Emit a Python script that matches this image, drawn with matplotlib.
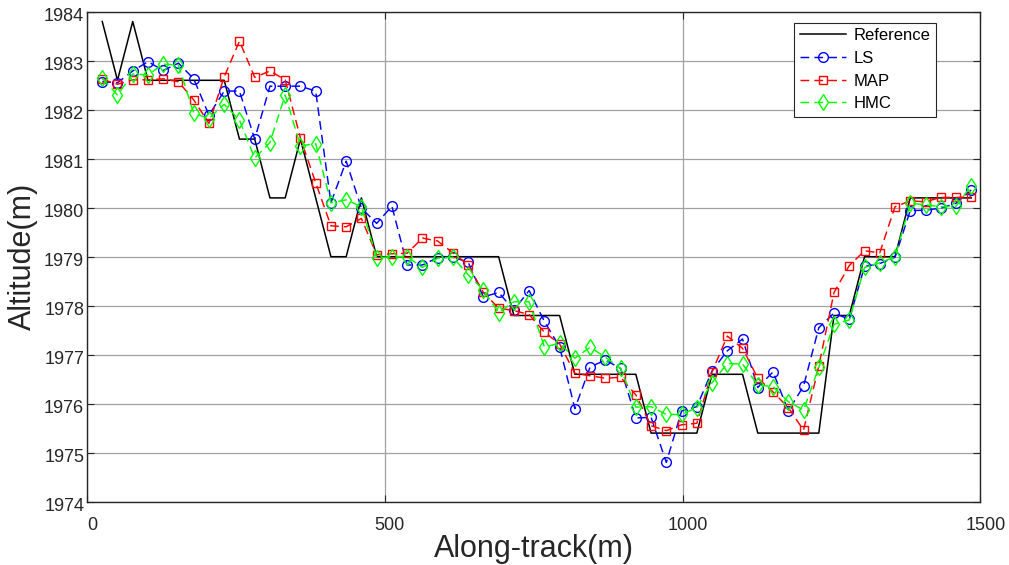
import matplotlib
matplotlib.use('Agg')
import matplotlib.pyplot as plt
import matplotlib.transforms as mtransforms
import numpy as np

plt.rcParams['font.family'] = ['Liberation Sans', 'DejaVu Sans']

# along-track sample positions (m)
along_track = [25.6, 51.2, 76.8, 102.4, 128.0, 153.6, 179.2, 204.8, 230.4, 256.0,
               281.6, 307.2, 332.8, 358.4, 384.0, 409.6, 435.2, 460.8, 486.4, 512.0,
               537.6, 563.2, 588.8, 614.4, 640.0, 665.6, 691.2, 716.8, 742.4, 768.0,
               793.6, 819.2, 844.8, 870.4, 896.0, 921.6, 947.2, 972.8, 998.4, 1024.0,
               1049.6, 1075.2, 1100.8, 1126.4, 1152.0, 1177.6, 1203.2, 1228.8, 1254.4, 1280.0,
               1305.6, 1331.2, 1356.8, 1382.4, 1408.0, 1433.6, 1459.2, 1484.8]

reference = [1983.8, 1982.6, 1983.8, 1982.6, 1982.6, 1982.6, 1982.6, 1982.6, 1982.6, 1981.4,
             1981.4, 1980.2, 1980.2, 1981.4, 1980.2, 1979.0, 1979.0, 1980.2, 1979.0, 1979.0,
             1979.0, 1979.0, 1979.0, 1979.0, 1979.0, 1979.0, 1979.0, 1977.8, 1977.8, 1977.8,
             1977.8, 1976.6, 1976.6, 1976.6, 1976.6, 1976.6, 1975.4, 1975.4, 1975.4, 1975.4,
             1976.6, 1976.6, 1976.6, 1975.4, 1975.4, 1975.4, 1975.4, 1975.4, 1977.8, 1977.8,
             1979.0, 1979.0, 1979.0, 1980.2, 1980.2, 1980.2, 1980.2, 1980.2]

ls_est = [1982.57, 1982.55, 1982.79, 1982.98, 1982.80, 1982.95, 1982.63, 1981.89, 1982.38, 1982.38,
          1981.40, 1982.48, 1982.48, 1982.48, 1982.38, 1980.10, 1980.95, 1979.99, 1979.68, 1980.03,
          1978.83, 1978.83, 1978.98, 1978.99, 1978.89, 1978.18, 1978.27, 1977.91, 1978.31, 1977.68,
          1977.16, 1975.90, 1976.75, 1976.89, 1976.72, 1975.71, 1975.72, 1974.80, 1975.85, 1975.94,
          1976.67, 1977.08, 1977.32, 1976.33, 1976.65, 1975.85, 1976.36, 1977.55, 1977.85, 1977.72,
          1978.80, 1978.86, 1978.99, 1979.94, 1979.95, 1979.99, 1980.09, 1980.36]

map_est = [1982.62, 1982.52, 1982.61, 1982.61, 1982.63, 1982.57, 1982.20, 1981.72, 1982.67, 1983.40,
           1982.66, 1982.79, 1982.61, 1981.42, 1980.51, 1979.63, 1979.61, 1979.78, 1979.04, 1979.06,
           1979.07, 1979.38, 1979.32, 1979.08, 1978.83, 1978.27, 1977.95, 1977.90, 1977.82, 1977.46,
           1977.22, 1976.62, 1976.57, 1976.52, 1976.54, 1976.18, 1975.55, 1975.45, 1975.57, 1975.60,
           1976.65, 1977.38, 1977.13, 1976.52, 1976.24, 1975.92, 1975.46, 1976.77, 1978.27, 1978.82,
           1979.12, 1979.08, 1980.02, 1980.14, 1980.12, 1980.21, 1980.21, 1980.22]

hmc_est = [1982.64, 1982.30, 1982.73, 1982.71, 1982.93, 1982.91, 1981.93, 1981.82, 1982.11, 1981.79,
           1981.01, 1981.33, 1982.30, 1981.26, 1981.31, 1980.10, 1980.16, 1980.02, 1978.98, 1979.00,
           1979.00, 1978.78, 1978.97, 1978.99, 1978.63, 1978.32, 1977.86, 1978.08, 1978.08, 1977.16,
           1977.23, 1976.93, 1977.15, 1976.95, 1976.72, 1975.93, 1975.94, 1975.78, 1975.78, 1975.92,
           1976.43, 1976.82, 1976.81, 1976.38, 1976.35, 1976.04, 1975.87, 1976.74, 1977.62, 1977.71,
           1978.78, 1978.88, 1978.99, 1980.09, 1980.06, 1980.02, 1980.03, 1980.45]

fig = plt.figure(figsize=(10.09, 5.65), dpi=100)
ax = fig.add_axes([87 / 1009, 63.3 / 565, 893.3 / 1009, 490 / 565])

dash = (0, (6.0, 3.5))
ax.plot(along_track, reference, color='black', lw=1.1, label='Reference', zorder=3)
ax.plot(along_track, ls_est, color=(0, 0, 1), lw=1.05, linestyle=dash, marker='o',
        markersize=7, markerfacecolor='none', markeredgewidth=1.0, label='LS', zorder=4)
ax.plot(along_track, map_est, color=(1, 0, 0), lw=1.05, linestyle=dash, marker='s',
        markersize=5.5, markerfacecolor='none', markeredgewidth=1.0, label='MAP', zorder=5)
ax.plot(along_track, hmc_est, color=(0, 1, 0), lw=1.05, linestyle=dash, marker='d',
        markersize=8, markerfacecolor='none', markeredgewidth=1.0, label='HMC', zorder=6)

ax.set_xlim(0, 1500)
ax.set_ylim(1974, 1984)
ax.set_xticks([0, 500, 1000, 1500])
ax.set_yticks(np.arange(1974, 1985, 1))
ax.grid(True, color='#a0a0a0', lw=0.9, zorder=0)
ax.set_axisbelow(True)

for s in ax.spines.values():
    s.set_color('#262626')
    s.set_linewidth(1.0)
ax.tick_params(direction='in', length=5, width=0.8, color='#262626',
               top=True, right=True, labelsize=13, labelcolor='#262626')
ax.tick_params(axis='x', pad=11)
ax.tick_params(axis='y', pad=2)

# MATLAB-like label offsets
for lab in ax.get_xticklabels():
    lab.set_transform(lab.get_transform() +
                      mtransforms.ScaledTranslation(5 / 100, 0, fig.dpi_scale_trans))
for lab in ax.get_yticklabels():
    lab.set_transform(lab.get_transform() +
                      mtransforms.ScaledTranslation(0, -3 / 100, fig.dpi_scale_trans))

ax.set_xlabel('Along-track(m)', fontsize=22, color='#262626', labelpad=0)
ax.set_ylabel('Altitude(m)', fontsize=22, color='#262626', labelpad=4)

leg = ax.legend(loc='upper right', bbox_to_anchor=(0.9504, 0.977), borderaxespad=0,
                fontsize=12, frameon=True, fancybox=False, edgecolor='#262626',
                framealpha=1, handlelength=2.8, borderpad=0.32, labelspacing=0.46,
                handletextpad=0.45)
leg.get_frame().set_linewidth(0.8)

fig.savefig('out.png', dpi=100)
